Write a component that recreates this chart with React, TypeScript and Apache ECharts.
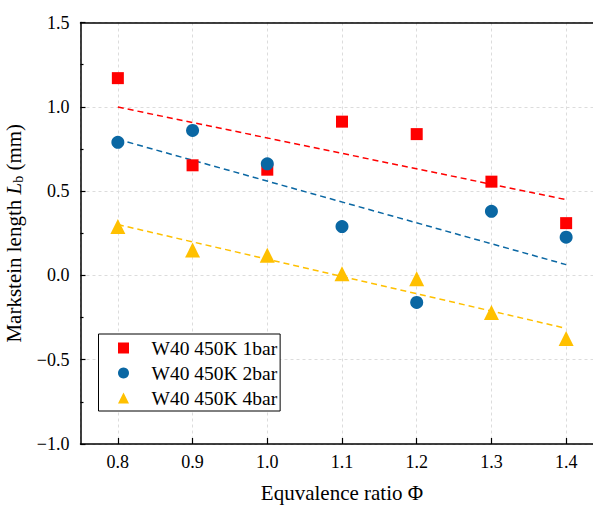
import React, { useEffect, useRef } from "react";
import * as echarts from "echarts";

const phi = [0.8, 0.9, 1.0, 1.1, 1.2, 1.3, 1.4];
const bar1 = [1.17, 0.653, 0.627, 0.912, 0.838, 0.556, 0.31];
const bar2 = [0.789, 0.86, 0.662, 0.29, -0.16, 0.38, 0.227];
const bar4 = [0.29, 0.15, 0.12, 0.01, -0.02, -0.22, -0.374];
const seriesNames = ["W40 450K 1bar", "W40 450K 2bar", "W40 450K 4bar"];
const colors = ["#FF0000", "#0A67A3", "#FFC000"];

function fitLine(xs: number[], ys: number[]) {
  const n = xs.length;
  const mx = xs.reduce((a, b) => a + b, 0) / n;
  const my = ys.reduce((a, b) => a + b, 0) / n;
  let sxy = 0, sxx = 0;
  for (let i = 0; i < n; i++) {
    sxy += (xs[i] - mx) * (ys[i] - my);
    sxx += (xs[i] - mx) * (xs[i] - mx);
  }
  const k = sxy / sxx;
  const x0 = xs[0], x1 = xs[n - 1];
  return [[x0, my + k * (x0 - mx)], [x1, my + k * (x1 - mx)]];
}

const FONT = "Liberation Serif";

export default function App() {
  const ref = useRef<HTMLDivElement>(null);
  useEffect(() => {
    const chart = echarts.init(ref.current!, null, { renderer: "svg" });
    const data = [bar1, bar2, bar4];
    const symbols = ["rect", "circle", "triangle"];
    const sizes = [12, 13, 15];
    const series: any[] = [];
    data.forEach((ys, i) => {
      series.push({
        type: "line",
        name: "fit" + i,
        data: fitLine(phi, ys),
        showSymbol: false,
        symbol: "none",
        lineStyle: { color: colors[i], width: 1.5, type: [6, 4] },
        silent: true,
        z: 1,
      });
    });
    data.forEach((ys, i) => {
      series.push({
        type: "scatter",
        name: seriesNames[i],
        data: phi.map((x, j) => [x, ys[j]]),
        symbol: symbols[i],
        symbolSize: sizes[i],
        itemStyle: { color: colors[i], opacity: 1 },
        z: 3,
      });
    });
    chart.setOption({
      animation: false,
      textStyle: { fontFamily: FONT },
      grid: {
        left: 80.5,
        top: 22.5,
        right: -10.5,
        bottom: 62,
        containLabel: false,
        outerBoundsMode: "none",
      },
      legend: {
        data: seriesNames,
        orient: "vertical",
        left: 98.5,
        top: 334,
        backgroundColor: "#fff",
        borderColor: "#000",
        borderWidth: 1,
        borderRadius: 0,
        padding: [4, 3, 3, 19.5],
        itemGap: 5,
        itemWidth: 11,
        itemHeight: 11,
        textStyle: { fontFamily: FONT, fontSize: 19.5, color: "#000", padding: [0, 0, 0, 17.5] },
      },
      xAxis: [
        {
          type: "value",
          min: 0.75,
          max: 1.45,
          splitNumber: 7,
          name: "Equvalence ratio Φ",
          nameLocation: "middle",
          nameGap: 38,
          nameTextStyle: { fontFamily: FONT, fontSize: 21, color: "#000" },
          axisLine: { show: true, onZero: false, lineStyle: { color: "#000", width: 1.5 } },
          axisTick: { show: true, inside: true, length: 6, lineStyle: { color: "#000", width: 1.2 } },
          axisLabel: {
            fontFamily: FONT,
            fontSize: 18,
            color: "#000",
            margin: 9,
            showMinLabel: false,
            showMaxLabel: false,
            formatter: (v: number) => v.toFixed(1),
          },
          splitLine: { show: true, lineStyle: { color: "#dcdcdc", width: 1, type: [3, 3] } },
        },
        {
          type: "value",
          position: "top",
          min: 0.75,
          max: 1.45,
          axisLine: { show: true, onZero: false, lineStyle: { color: "#000", width: 1.5 } },
          axisTick: { show: false },
          axisLabel: { show: false },
          splitLine: { show: false },
        },
      ],
      yAxis: {
        type: "value",
        min: -1,
        max: 1.5,
        interval: 0.5,
        name: "Markstein length {i|L}{s|b} (mm)",
        nameLocation: "middle",
        nameGap: 34,
        nameTextStyle: {
          fontFamily: FONT,
          fontSize: 21,
          color: "#000",
          rich: {
            i: { fontFamily: FONT, fontSize: 21, fontStyle: "italic", color: "#000" },
            s: { fontFamily: FONT, fontSize: 14, color: "#000", verticalAlign: "bottom", padding: [9, 0, 0, 0] },
          },
        },
        axisLine: { show: true, onZero: false, lineStyle: { color: "#000", width: 1.5 } },
        axisTick: { show: true, inside: true, length: 5, lineStyle: { color: "#000", width: 1.2 } },
        minorTick: { show: true, splitNumber: 2, length: 3, lineStyle: { color: "#000", width: 1.2 } },
        axisLabel: {
          fontFamily: FONT,
          fontSize: 18,
          color: "#000",
          margin: 11,
          formatter: (v: number) => v.toFixed(1).replace("-", "\u2212"),
        },
        splitLine: { show: true, lineStyle: { color: "#dcdcdc", width: 1, type: [3, 3] } },
      },
      series,
    });
    return () => chart.dispose();
  }, []);
  return (
    <div
      ref={ref}
      style={{ position: "fixed", left: 0, top: 0, width: 593, height: 506, background: "#fff" }}
    />
  );
}
